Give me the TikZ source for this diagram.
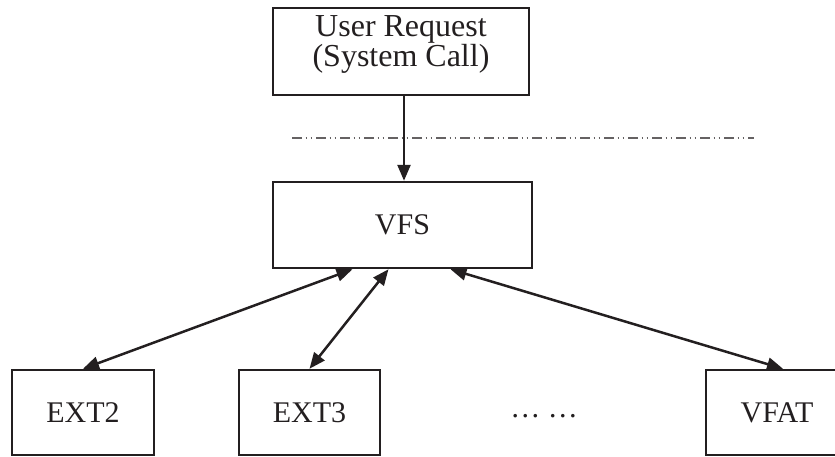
\documentclass[tikz,border=0pt]{standalone}
\usepackage{fontspec}
\setmainfont{Liberation Serif}
\usetikzlibrary{arrows.meta,calc}
\definecolor{ink}{HTML}{231F20}
\begin{document}
\begin{tikzpicture}[x=1pt,y=-1pt,
  box/.style={draw=ink,line width=2.5pt,rectangle,inner sep=0pt},
  lbl/.style={text=ink,font=\fontsize{30}{30}\selectfont},
  tip/.style={Triangle[length=16pt,width=13pt]},
  link/.style={draw=ink,line width=2.5pt,{Triangle[length=16pt,width=13pt]}-{Triangle[length=16pt,width=13pt]}},
  down/.style={draw=ink,line width=2.5pt,-{Triangle[length=16pt,width=13pt]}},
  sep/.style={draw=ink!70,line width=1.6pt,dash pattern=on 10pt off 3.5pt on 1.5pt off 3.5pt on 1.5pt off 4pt}]
\useasboundingbox (0,0) rectangle (835,456);
\clip (0,0) rectangle (835,456);

% boxes
\node[box,minimum width=256pt,minimum height=87pt] (user) at (401,51.5) {};
\node[lbl,align=center,font=\fontsize{32}{25}\selectfont] (usertext) at (401,44) {User Request\\(System Call)};
\node[box,minimum width=259pt,minimum height=86pt,lbl] (vfs) at (402.5,225) {VFS};
\node[box,minimum width=142pt,minimum height=85pt,lbl] (ext2) at (83,412.5) {EXT2};
\node[box,minimum width=141pt,minimum height=85pt,lbl] (ext3) at (309.5,412.5) {EXT3};
\node[box,minimum width=142pt,minimum height=85pt,lbl] (vfat) at (777,412.5) {VFAT};
\node[lbl] (dots) at (544,416) {… …};

% user/kernel boundary
\coordinate (sepL) at (292,138);
\coordinate (sepR) at (754,138);
\draw[sep] (sepL) -- (sepR);

% connectors
\draw[down] (user.south -| 404,0) -- (vfs.north -| 404,0);
\draw[link] ($(vfs.south)+(-50,0)$) -- (ext2.north);
\draw[link] ($(vfs.south)+(-14,0)$) -- (ext3.north);
\draw[link] ($(vfs.south)+(48,0)$) -- ($(vfat.north)+(6,0)$);
\end{tikzpicture}
\end{document}
